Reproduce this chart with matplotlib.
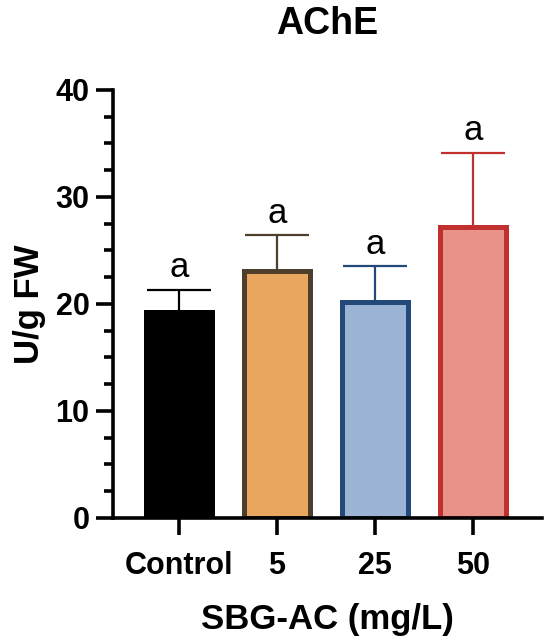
import matplotlib
matplotlib.use('Agg')
import matplotlib.pyplot as plt
import numpy as np
from matplotlib.ticker import MultipleLocator

groups = ['Control', '5', '25', '50']
means = [19.2, 23.1, 20.2, 27.2]
errs = [2.1, 3.3, 3.3, 6.9]
letters = ['a', 'a', 'a', 'a']

fills = ['#000000', '#E8A65E', '#9BB4D4', '#E8928A']
edges = ['#000000', '#4E3F2D', '#23487A', '#C0302F']

plt.rcParams['font.family'] = ['Liberation Sans', 'DejaVu Sans']

fig = plt.figure(figsize=(5.5, 6.41), dpi=100)
ax = fig.add_axes([0.2055, 0.192, 0.78, 0.668])

x = np.arange(len(groups))
for i in range(len(groups)):
    ax.errorbar(x[i], means[i], yerr=[[0], [errs[i]]], fmt='none',
                ecolor=edges[i], elinewidth=1.6, capsize=23, capthick=1.6, zorder=1)
    ax.bar(x[i], means[i], width=0.67, color=fills[i], edgecolor=edges[i],
           linewidth=3.6, zorder=2)
    ax.annotate(letters[i], (x[i], means[i] + errs[i]), xytext=(0, 4),
                textcoords='offset points', ha='center', va='bottom', fontsize=25)

ax.set_xlim(-0.67, 3.7)
ax.set_ylim(0, 40)
ax.yaxis.set_major_locator(MultipleLocator(10))
ax.yaxis.set_minor_locator(MultipleLocator(2.5))
ax.set_xticks(x)
ax.set_xticklabels(groups)

for s in ['top', 'right']:
    ax.spines[s].set_visible(False)
for s in ['left', 'bottom']:
    ax.spines[s].set_linewidth(2.6)

ax.tick_params(axis='both', which='major', length=12, width=2.6, labelsize=22)
ax.tick_params(axis='x', pad=12)
ax.tick_params(axis='y', pad=5)
ax.tick_params(axis='y', which='minor', length=6.5, width=2.6)
for lab in ax.get_xticklabels() + ax.get_yticklabels():
    lab.set_fontweight('bold')

ax.set_ylabel('U/g FW', fontsize=25, fontweight='bold', labelpad=7)
ax.set_xlabel('SBG-AC (mg/L)', fontsize=25, fontweight='bold', labelpad=16)
ax.set_title('AChE', fontsize=27, fontweight='bold', pad=40)

plt.savefig('out.png', dpi=100)
